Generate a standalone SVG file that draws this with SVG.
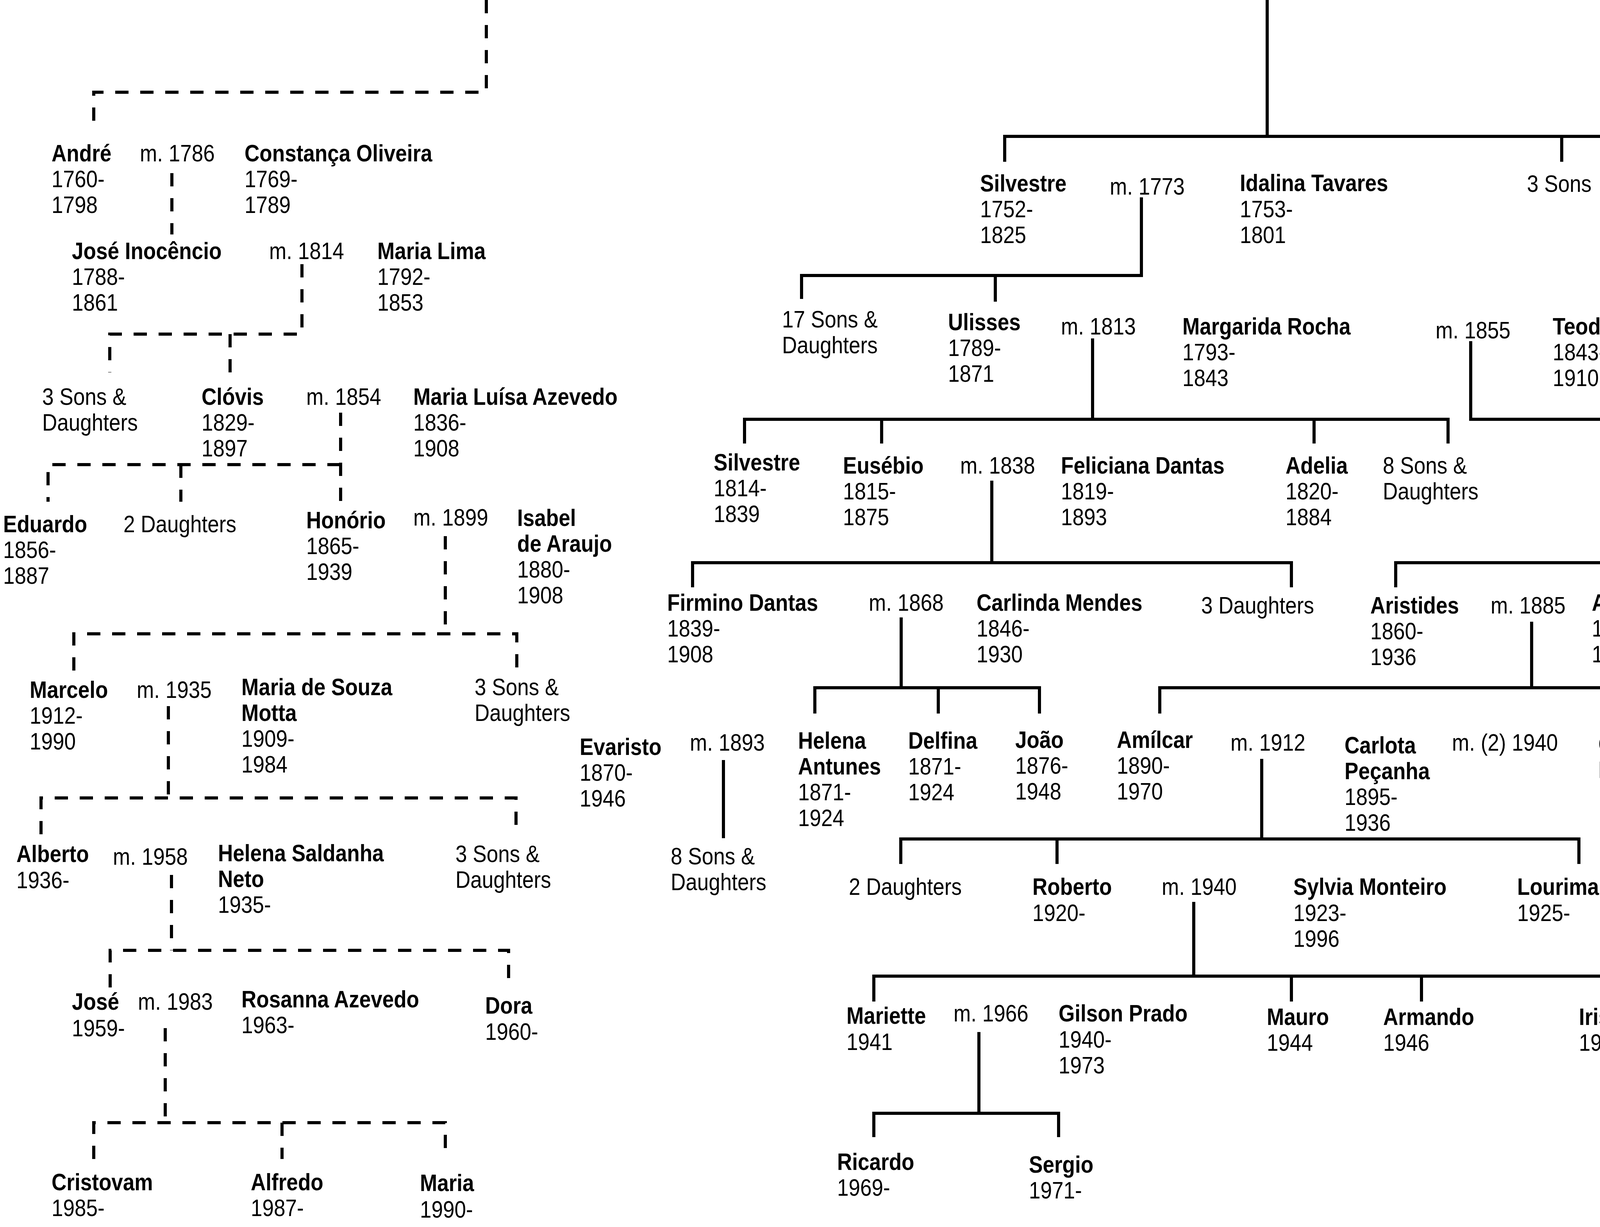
<svg xmlns="http://www.w3.org/2000/svg" width="4700" height="3140" viewBox="0 0 4700 3140">
<style>
text{font-family:"Liberation Sans",Arial,sans-serif;font-size:61px;fill:#000}
.b{font-weight:bold}
.s{fill:none;stroke:#000;stroke-width:8}
.dl{fill:none;stroke:#000;stroke-width:8;stroke-dasharray:34 30}
</style>
<rect width="4700" height="3140" fill="#fff"/>
<g id="connectors">
<g id="dashed">
<path class="dl" d="M1245,0 V236 H240 V335"/>
<path class="dl" d="M440,443 V600"/>
<path class="dl" d="M773,676 V855 H281 V953"/>
<path class="dl" d="M589,855 V953"/>
<path class="dl" d="M872,1056 V1284"/>
<path class="dl" d="M872,1189 H123 V1284"/>
<path class="dl" d="M463,1189 V1284"/>
<path class="dl" d="M1140,1372 V1622"/>
<path class="dl" d="M189,1716 V1622 H1323 V1716"/>
<path class="dl" d="M431,1807 V2042"/>
<path class="dl" d="M105,2135 V2042 H1321 V2135"/>
<path class="dl" d="M439,2239 V2432"/>
<path class="dl" d="M282,2527 V2432 H1302 V2527"/>
<path class="dl" d="M423,2631 V2873"/>
<path class="dl" d="M240,2966 V2873 H1140 V2966"/>
<path class="dl" d="M722,2873 V2966"/>
</g>
<g id="solid">
<path class="s" d="M3244,0 V349"/>
<path class="s" d="M2572,414 V349 H4440 V414"/>
<path class="s" d="M3998,349 V414"/>
<path class="s" d="M2922,505 V705 H2052 V765"/>
<path class="s" d="M2548,705 V772"/>
<path class="s" d="M2797,866 V1073"/>
<path class="s" d="M1906,1135 V1073 H3707 V1135"/>
<path class="s" d="M2257,1073 V1135"/>
<path class="s" d="M3364,1073 V1135"/>
<path class="s" d="M3765,873 V1073 H4298 V1440"/>
<path class="s" d="M2539,1230 V1440"/>
<path class="s" d="M1773,1503 V1440 H3306 V1503"/>
<path class="s" d="M3573,1503 V1440 H4580 V1503"/>
<path class="s" d="M2307,1580 V1760"/>
<path class="s" d="M2086,1826 V1760 H2661 V1826"/>
<path class="s" d="M2402,1760 V1826"/>
<path class="s" d="M3921,1591 V1760"/>
<path class="s" d="M2969,1826 V1760 H4640 V1837"/>
<path class="s" d="M1852,1945 V2145"/>
<path class="s" d="M3230,1942 V2147"/>
<path class="s" d="M2306,2211 V2147 H4042 V2211"/>
<path class="s" d="M2706,2147 V2211"/>
<path class="s" d="M3056,2308 V2498"/>
<path class="s" d="M2237,2563 V2498 H4107 V2563"/>
<path class="s" d="M3306,2498 V2563"/>
<path class="s" d="M3639,2498 V2563"/>
<path class="s" d="M2506,2641 V2849"/>
<path class="s" d="M2237,2910 V2849 H2710 V2910"/>
</g>
</g>
<g id="n_andre"><text transform="matrix(.87 0 0 1 132 0)"><tspan class="b" x="0" y="413">André</tspan><tspan x="0" y="479">1760-</tspan><tspan x="0" y="545">1798</tspan></text></g>
<g id="m_1786"><text transform="matrix(.87 0 0 1 358 0)" x="0" y="413">m. 1786</text></g>
<g id="n_constanca"><text transform="matrix(.87 0 0 1 626 0)"><tspan class="b" x="0" y="413">Constança Oliveira</tspan><tspan x="0" y="479">1769-</tspan><tspan x="0" y="545">1789</tspan></text></g>
<g id="n_jose_inocencio"><text transform="matrix(.87 0 0 1 184 0)"><tspan class="b" x="0" y="663">José Inocêncio</tspan><tspan x="0" y="729">1788-</tspan><tspan x="0" y="795">1861</tspan></text></g>
<g id="m_1814"><text transform="matrix(.87 0 0 1 689 0)" x="0" y="663">m. 1814</text></g>
<g id="n_maria_lima"><text transform="matrix(.87 0 0 1 966 0)"><tspan class="b" x="0" y="663">Maria Lima</tspan><tspan x="0" y="729">1792-</tspan><tspan x="0" y="795">1853</tspan></text></g>
<g id="n_3sons_a"><text transform="matrix(.87 0 0 1 108 0)"><tspan x="0" y="1036">3 Sons &amp;</tspan><tspan x="0" y="1102">Daughters</tspan></text></g>
<g id="n_clovis"><text transform="matrix(.87 0 0 1 516 0)"><tspan class="b" x="0" y="1036">Clóvis</tspan><tspan x="0" y="1102">1829-</tspan><tspan x="0" y="1168">1897</tspan></text></g>
<g id="m_1854"><text transform="matrix(.87 0 0 1 784 0)" x="0" y="1036">m. 1854</text></g>
<g id="n_maria_luisa"><text transform="matrix(.87 0 0 1 1058 0)"><tspan class="b" x="0" y="1036">Maria Luísa Azevedo</tspan><tspan x="0" y="1102">1836-</tspan><tspan x="0" y="1168">1908</tspan></text></g>
<g id="n_eduardo"><text transform="matrix(.87 0 0 1 8 0)"><tspan class="b" x="0" y="1362">Eduardo</tspan><tspan x="0" y="1428">1856-</tspan><tspan x="0" y="1494">1887</tspan></text></g>
<g id="n_2daughters_a"><text transform="matrix(.87 0 0 1 316 0)" x="0" y="1362">2 Daughters</text></g>
<g id="n_honorio"><text transform="matrix(.87 0 0 1 784 0)"><tspan class="b" x="0" y="1352">Honório</tspan><tspan x="0" y="1418">1865-</tspan><tspan x="0" y="1484">1939</tspan></text></g>
<g id="m_1899"><text transform="matrix(.87 0 0 1 1058 0)" x="0" y="1345">m. 1899</text></g>
<g id="n_isabel"><text transform="matrix(.87 0 0 1 1324 0)"><tspan class="b" x="0" y="1346">Isabel</tspan><tspan class="b" x="0" y="1412">de Araujo</tspan><tspan x="0" y="1478">1880-</tspan><tspan x="0" y="1544">1908</tspan></text></g>
<g id="n_marcelo"><text transform="matrix(.87 0 0 1 76 0)"><tspan class="b" x="0" y="1786">Marcelo</tspan><tspan x="0" y="1852">1912-</tspan><tspan x="0" y="1918">1990</tspan></text></g>
<g id="m_1935"><text transform="matrix(.87 0 0 1 350 0)" x="0" y="1786">m. 1935</text></g>
<g id="n_maria_souza"><text transform="matrix(.87 0 0 1 618 0)"><tspan class="b" x="0" y="1779">Maria de Souza</tspan><tspan class="b" x="0" y="1845">Motta</tspan><tspan x="0" y="1911">1909-</tspan><tspan x="0" y="1977">1984</tspan></text></g>
<g id="n_3sons_b"><text transform="matrix(.87 0 0 1 1215 0)"><tspan x="0" y="1779">3 Sons &amp;</tspan><tspan x="0" y="1845">Daughters</tspan></text></g>
<g id="n_alberto"><text transform="matrix(.87 0 0 1 42 0)"><tspan class="b" x="0" y="2206">Alberto</tspan><tspan x="0" y="2273">1936-</tspan></text></g>
<g id="m_1958"><text transform="matrix(.87 0 0 1 289 0)" x="0" y="2213">m. 1958</text></g>
<g id="n_helena_saldanha"><text transform="matrix(.87 0 0 1 558 0)"><tspan class="b" x="0" y="2204">Helena Saldanha</tspan><tspan class="b" x="0" y="2270">Neto</tspan><tspan x="0" y="2336">1935-</tspan></text></g>
<g id="n_3sons_c"><text transform="matrix(.87 0 0 1 1166 0)"><tspan x="0" y="2206">3 Sons &amp;</tspan><tspan x="0" y="2272">Daughters</tspan></text></g>
<g id="n_jose"><text transform="matrix(.87 0 0 1 184 0)"><tspan class="b" x="0" y="2584">José</tspan><tspan x="0" y="2652">1959-</tspan></text></g>
<g id="m_1983"><text transform="matrix(.87 0 0 1 353 0)" x="0" y="2584">m. 1983</text></g>
<g id="n_rosanna"><text transform="matrix(.87 0 0 1 618 0)"><tspan class="b" x="0" y="2578">Rosanna Azevedo</tspan><tspan x="0" y="2644">1963-</tspan></text></g>
<g id="n_dora"><text transform="matrix(.87 0 0 1 1242 0)"><tspan class="b" x="0" y="2594">Dora</tspan><tspan x="0" y="2661">1960-</tspan></text></g>
<g id="n_cristovam"><text transform="matrix(.87 0 0 1 132 0)"><tspan class="b" x="0" y="3046">Cristovam</tspan><tspan x="0" y="3112">1985-</tspan></text></g>
<g id="n_alfredo"><text transform="matrix(.87 0 0 1 642 0)"><tspan class="b" x="0" y="3046">Alfredo</tspan><tspan x="0" y="3112">1987-</tspan></text></g>
<g id="n_maria"><text transform="matrix(.87 0 0 1 1075 0)"><tspan class="b" x="0" y="3048">Maria</tspan><tspan x="0" y="3116">1990-</tspan></text></g>

<g id="n_silvestre1"><text transform="matrix(.87 0 0 1 2509 0)"><tspan class="b" x="0" y="490">Silvestre</tspan><tspan x="0" y="556">1752-</tspan><tspan x="0" y="622">1825</tspan></text></g>
<g id="m_1773"><text transform="matrix(.87 0 0 1 2841 0)" x="0" y="498">m. 1773</text></g>
<g id="n_idalina"><text transform="matrix(.87 0 0 1 3174 0)"><tspan class="b" x="0" y="489">Idalina Tavares</tspan><tspan x="0" y="556">1753-</tspan><tspan x="0" y="622">1801</tspan></text></g>
<g id="n_3sons_r"><text transform="matrix(.87 0 0 1 3909 0)" x="0" y="491">3 Sons</text></g>
<g id="n_2daughters_r"><text transform="matrix(.87 0 0 1 4291 0)" x="0" y="483">2 Daughters</text></g>
<g id="n_17sons"><text transform="matrix(.87 0 0 1 2002 0)"><tspan x="0" y="838">17 Sons &amp;</tspan><tspan x="0" y="904">Daughters</tspan></text></g>
<g id="n_ulisses"><text transform="matrix(.87 0 0 1 2427 0)"><tspan class="b" x="0" y="845">Ulisses</tspan><tspan x="0" y="911">1789-</tspan><tspan x="0" y="977">1871</tspan></text></g>
<g id="m_1813"><text transform="matrix(.87 0 0 1 2716 0)" x="0" y="856">m. 1813</text></g>
<g id="n_margarida"><text transform="matrix(.87 0 0 1 3027 0)"><tspan class="b" x="0" y="856">Margarida Rocha</tspan><tspan x="0" y="922">1793-</tspan><tspan x="0" y="988">1843</tspan></text></g>
<g id="m_1855"><text transform="matrix(.87 0 0 1 3675 0)" x="0" y="866">m. 1855</text></g>
<g id="n_teodora"><text transform="matrix(.87 0 0 1 3975 0)"><tspan class="b" x="0" y="856">Teodora Rita Mendes</tspan><tspan x="0" y="922">1843-</tspan><tspan x="0" y="988">1910</tspan></text></g>
<g id="n_silvestre2"><text transform="matrix(.87 0 0 1 1827 0)"><tspan class="b" x="0" y="1204">Silvestre</tspan><tspan x="0" y="1270">1814-</tspan><tspan x="0" y="1336">1839</tspan></text></g>
<g id="n_eusebio"><text transform="matrix(.87 0 0 1 2158 0)"><tspan class="b" x="0" y="1212">Eusébio</tspan><tspan x="0" y="1278">1815-</tspan><tspan x="0" y="1344">1875</tspan></text></g>
<g id="m_1838"><text transform="matrix(.87 0 0 1 2458 0)" x="0" y="1212">m. 1838</text></g>
<g id="n_feliciana"><text transform="matrix(.87 0 0 1 2716 0)"><tspan class="b" x="0" y="1212">Feliciana Dantas</tspan><tspan x="0" y="1278">1819-</tspan><tspan x="0" y="1344">1893</tspan></text></g>
<g id="n_adelia"><text transform="matrix(.87 0 0 1 3291 0)"><tspan class="b" x="0" y="1212">Adelia</tspan><tspan x="0" y="1278">1820-</tspan><tspan x="0" y="1344">1884</tspan></text></g>
<g id="n_8sons_a"><text transform="matrix(.87 0 0 1 3540 0)"><tspan x="0" y="1212">8 Sons &amp;</tspan><tspan x="0" y="1278">Daughters</tspan></text></g>
<g id="n_firmino"><text transform="matrix(.87 0 0 1 1708 0)"><tspan class="b" x="0" y="1563">Firmino Dantas</tspan><tspan x="0" y="1629">1839-</tspan><tspan x="0" y="1695">1908</tspan></text></g>
<g id="m_1868"><text transform="matrix(.87 0 0 1 2224 0)" x="0" y="1563">m. 1868</text></g>
<g id="n_carlinda"><text transform="matrix(.87 0 0 1 2500 0)"><tspan class="b" x="0" y="1563">Carlinda Mendes</tspan><tspan x="0" y="1629">1846-</tspan><tspan x="0" y="1695">1930</tspan></text></g>
<g id="n_3daughters"><text transform="matrix(.87 0 0 1 3075 0)" x="0" y="1570">3 Daughters</text></g>
<g id="n_aristides"><text transform="matrix(.87 0 0 1 3508 0)"><tspan class="b" x="0" y="1570">Aristides</tspan><tspan x="0" y="1636">1860-</tspan><tspan x="0" y="1702">1936</tspan></text></g>
<g id="m_1885"><text transform="matrix(.87 0 0 1 3816 0)" x="0" y="1570">m. 1885</text></g>
<g id="n_anna"><text transform="matrix(.87 0 0 1 4075 0)"><tspan class="b" x="0" y="1563">Anna Pinto</tspan><tspan x="0" y="1629">1860-</tspan><tspan x="0" y="1695">1941</tspan></text></g>
<g id="n_carmen"><text transform="matrix(.87 0 0 1 4467 0)"><tspan class="b" x="0" y="1563">Carmen</tspan><tspan x="0" y="1629">1861-</tspan><tspan x="0" y="1695">1927</tspan></text></g>
<g id="n_evaristo"><text transform="matrix(.87 0 0 1 1484 0)"><tspan class="b" x="0" y="1932">Evaristo</tspan><tspan x="0" y="1998">1870-</tspan><tspan x="0" y="2064">1946</tspan></text></g>
<g id="m_1893"><text transform="matrix(.87 0 0 1 1766 0)" x="0" y="1921">m. 1893</text></g>
<g id="n_8sons_b"><text transform="matrix(.87 0 0 1 1717 0)"><tspan x="0" y="2212">8 Sons &amp;</tspan><tspan x="0" y="2278">Daughters</tspan></text></g>
<g id="n_helena_antunes"><text transform="matrix(.87 0 0 1 2043 0)"><tspan class="b" x="0" y="1916">Helena</tspan><tspan class="b" x="0" y="1982">Antunes</tspan><tspan x="0" y="2048">1871-</tspan><tspan x="0" y="2114">1924</tspan></text></g>
<g id="n_delfina"><text transform="matrix(.87 0 0 1 2325 0)"><tspan class="b" x="0" y="1916">Delfina</tspan><tspan x="0" y="1982">1871-</tspan><tspan x="0" y="2048">1924</tspan></text></g>
<g id="n_joao"><text transform="matrix(.87 0 0 1 2599 0)"><tspan class="b" x="0" y="1914">João</tspan><tspan x="0" y="1980">1876-</tspan><tspan x="0" y="2046">1948</tspan></text></g>
<g id="n_amilcar"><text transform="matrix(.87 0 0 1 2859 0)"><tspan class="b" x="0" y="1914">Amílcar</tspan><tspan x="0" y="1980">1890-</tspan><tspan x="0" y="2046">1970</tspan></text></g>
<g id="m_1912"><text transform="matrix(.87 0 0 1 3150 0)" x="0" y="1921">m. 1912</text></g>
<g id="n_carlota"><text transform="matrix(.87 0 0 1 3442 0)"><tspan class="b" x="0" y="1928">Carlota</tspan><tspan class="b" x="0" y="1994">Peçanha</tspan><tspan x="0" y="2060">1895-</tspan><tspan x="0" y="2126">1936</tspan></text></g>
<g id="m_2_1940"><text transform="matrix(.87 0 0 1 3717 0)" x="0" y="1921">m. (2) 1940</text></g>
<g id="n_cora"><text transform="matrix(.87 0 0 1 4092 0)"><tspan class="b" x="0" y="1925">Cora Lima</tspan><tspan class="b" x="0" y="1991">Moraes</tspan><tspan x="0" y="2057">1918-</tspan><tspan x="0" y="2123">1979</tspan></text></g>
<g id="n_5sons"><text transform="matrix(.87 0 0 1 4442 0)"><tspan x="0" y="1921">5 Sons &amp;</tspan><tspan x="0" y="1987">Daughters</tspan></text></g>
<g id="n_2daughters_b"><text transform="matrix(.87 0 0 1 2173 0)" x="0" y="2290">2 Daughters</text></g>
<g id="n_roberto"><text transform="matrix(.87 0 0 1 2643 0)"><tspan class="b" x="0" y="2290">Roberto</tspan><tspan x="0" y="2357">1920-</tspan></text></g>
<g id="m_1940"><text transform="matrix(.87 0 0 1 2974 0)" x="0" y="2290">m. 1940</text></g>
<g id="n_sylvia"><text transform="matrix(.87 0 0 1 3311 0)"><tspan class="b" x="0" y="2290">Sylvia Monteiro</tspan><tspan x="0" y="2357">1923-</tspan><tspan x="0" y="2423">1996</tspan></text></g>
<g id="n_lourimar"><text transform="matrix(.87 0 0 1 3884 0)"><tspan class="b" x="0" y="2290">Lourimar</tspan><tspan x="0" y="2357">1925-</tspan></text></g>
<g id="n_mariette"><text transform="matrix(.87 0 0 1 2167 0)"><tspan class="b" x="0" y="2620">Mariette</tspan><tspan x="0" y="2687">1941</tspan></text></g>
<g id="m_1966"><text transform="matrix(.87 0 0 1 2441 0)" x="0" y="2614">m. 1966</text></g>
<g id="n_gilson"><text transform="matrix(.87 0 0 1 2710 0)"><tspan class="b" x="0" y="2614">Gilson Prado</tspan><tspan x="0" y="2681">1940-</tspan><tspan x="0" y="2747">1973</tspan></text></g>
<g id="n_mauro"><text transform="matrix(.87 0 0 1 3243 0)"><tspan class="b" x="0" y="2623">Mauro</tspan><tspan x="0" y="2689">1944</tspan></text></g>
<g id="n_armando"><text transform="matrix(.87 0 0 1 3541 0)"><tspan class="b" x="0" y="2623">Armando</tspan><tspan x="0" y="2689">1946</tspan></text></g>
<g id="n_iris"><text transform="matrix(.87 0 0 1 4042 0)"><tspan class="b" x="0" y="2623">Iris</tspan><tspan x="0" y="2689">1949</tspan></text></g>
<g id="n_ricardo"><text transform="matrix(.87 0 0 1 2143 0)"><tspan class="b" x="0" y="2994">Ricardo</tspan><tspan x="0" y="3060">1969-</tspan></text></g>
<g id="n_sergio"><text transform="matrix(.87 0 0 1 2634 0)"><tspan class="b" x="0" y="3001">Sergio</tspan><tspan x="0" y="3067">1971-</tspan></text></g>
</svg>
